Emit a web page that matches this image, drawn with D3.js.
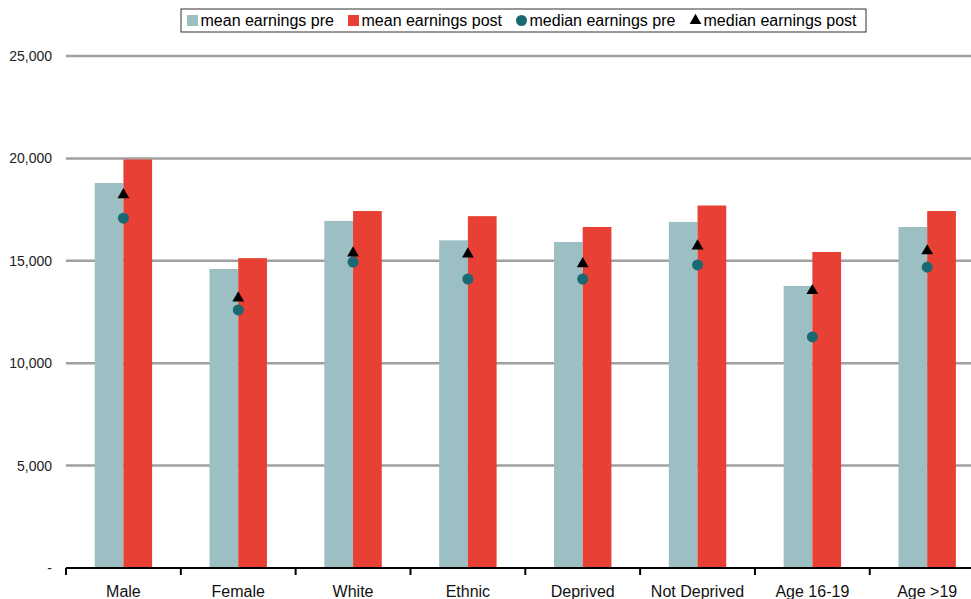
<!DOCTYPE html>
<html><head><meta charset="utf-8">
<script src="https://cdn.jsdelivr.net/npm/d3@7/dist/d3.min.js"></script>
<style>body{margin:0;background:#fff;}svg{display:block;font-family:"Liberation Sans",Arial,sans-serif;}</style>
</head><body>
<svg id="c" width="971" height="599"></svg>
<script>
const categories = ["Male","Female","White","Ethnic","Deprived","Not Deprived","Age 16-19","Age >19"];
const meanPre   = [18800,14600,16950,16000,15920,16900,13770,16650];
const meanPost  = [19950,15130,17430,17180,16650,17700,15430,17430];
const medianPre = [17080,12600,14940,14110,14110,14800,11280,14690];
const medianPost= [18220,13180,15380,15330,14850,15720,13540,15480];
const yTicks = [0,5000,10000,15000,20000,25000];
const seriesNames = ["mean earnings pre","mean earnings post","median earnings pre","median earnings post"];

(function(){
const colPre="#9BBFC2", colPost="#E84035", colMed="#1A6872", colTri="#000";
const svg=d3.select("#c");
const pLeft=66, pRight=984.6, pTop=56, pBottom=568;
const x=d3.scaleBand().domain(categories).range([pLeft,pRight]).padding(0);
const y=d3.scaleLinear().domain([0,25000]).range([pBottom,pTop]);
const bw=x.bandwidth()/4;

svg.append("g").selectAll("line").data(yTicks.filter(d=>d>0)).join("line")
  .attr("x1",pLeft).attr("x2",971).attr("y1",d=>y(d)).attr("y2",d=>y(d))
  .attr("stroke","#A0A0A0").attr("stroke-width",2.5);
svg.append("g").selectAll("text").data(yTicks).join("text")
  .attr("x",52).attr("y",d=>y(d)+5).attr("text-anchor","end")
  .attr("font-size",14).attr("fill","#222")
  .text(d=>d===0?"-":d3.format(",")(d));

const data=categories.map((c,i)=>({c,pre:meanPre[i],post:meanPost[i],mp:medianPre[i],mq:medianPost[i]}));
const cx=d=>x(d.c)+x.bandwidth()/2;
svg.append("g").selectAll("rect").data(data).join("rect")
  .attr("x",d=>cx(d)-bw).attr("width",bw).attr("y",d=>y(d.pre)).attr("height",d=>y(0)-y(d.pre)).attr("fill",colPre);
svg.append("g").selectAll("rect").data(data).join("rect")
  .attr("x",d=>cx(d)).attr("width",bw).attr("y",d=>y(d.post)).attr("height",d=>y(0)-y(d.post)).attr("fill",colPost);
svg.append("g").selectAll("circle").data(data).join("circle")
  .attr("cx",cx).attr("cy",d=>y(d.mp)).attr("r",5.5).attr("fill",colMed);
const tri=d3.symbol().type(d3.symbolTriangle).size(60);
svg.append("g").selectAll("path").data(data).join("path")
  .attr("d",tri).attr("transform",d=>`translate(${cx(d)},${y(d.mq)})`).attr("fill",colTri);

svg.append("line").attr("x1",pLeft).attr("x2",971).attr("y1",pBottom).attr("y2",pBottom).attr("stroke","#000").attr("stroke-width",2);
svg.append("g").selectAll("line").data(categories).join("line")
  .attr("x1",d=>x(d)).attr("x2",d=>x(d)).attr("y1",pBottom).attr("y2",pBottom+7).attr("stroke","#000").attr("stroke-width",2);
svg.append("g").selectAll("text").data(categories).join("text")
  .attr("x",d=>x(d)+x.bandwidth()/2).attr("y",597).attr("text-anchor","middle")
  .attr("font-size",16).attr("fill","#111").text(d=>d);

const lg=svg.append("g");
lg.append("rect").attr("x",181).attr("y",9).attr("width",685).attr("height",23).attr("fill","#fff").attr("stroke","#333").attr("stroke-width",1);
const itemX=[187,348,516,690];
seriesNames.forEach((n,i)=>{
  const gx=itemX[i], gy=20.5;
  if(i===0) lg.append("rect").attr("x",gx).attr("y",gy-5.5).attr("width",11).attr("height",11).attr("fill",colPre);
  if(i===1) lg.append("rect").attr("x",gx).attr("y",gy-5.5).attr("width",11).attr("height",11).attr("fill",colPost);
  if(i===2) lg.append("circle").attr("cx",gx+5.5).attr("cy",gy).attr("r",5.5).attr("fill",colMed);
  if(i===3) lg.append("path").attr("d",tri).attr("transform",`translate(${gx+5.5},${gy})`).attr("fill",colTri);
  lg.append("text").attr("x",gx+13.5).attr("y",gy+5.5).attr("font-size",16).attr("fill","#000").text(n);
});
})();
</script>
</body></html>
